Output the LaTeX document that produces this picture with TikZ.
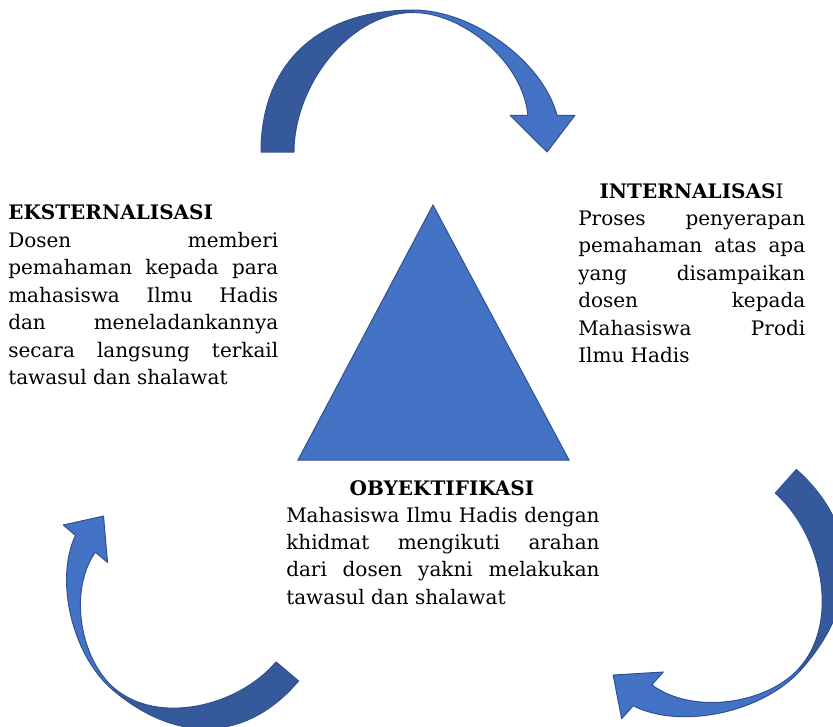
\documentclass[tikz,border=0pt]{standalone}
\usepackage{fontspec}
\setmainfont{DejaVu Serif}
\hyphenpenalty=10000
\exhyphenpenalty=10000
\tolerance=10000
\definecolor{lb}{HTML}{4472C4}
\definecolor{db}{HTML}{35599B}
\definecolor{edge}{HTML}{2F528F}
\tikzset{
  lightpart/.style={fill=lb, draw=edge, line width=0.75pt, line join=round},
  darkpart/.style={fill=db, draw=edge, line width=0.75pt, line join=round},
  tri/.style={fill=lb, draw=edge, line width=0.75pt},
  txt/.style={font=\fontsize{15}{20.6}\selectfont, inner sep=0pt, text=black},
  body/.style={txt, align=justify, anchor=base west},
  ttl/.style={inner sep=0pt, text=black, font=\fontsize{15}{20.6}\selectfont\bfseries, anchor=base},
}
\newcommand\myarrow[4]{%
  \begin{scope}[shift={(#1,#2)}, rotate=#3, scale=#4]
    \path[lightpart] (0,-142) .. controls (60,-142) and (130,-90) .. (144,-36.75)
      -- (162,-36.75) -- (134,0) -- (97,-36.75) -- (114.9,-36.75)
      .. controls (110,-90) and (50,-139.5) .. (0,-139.5) -- cycle;
    \path[darkpart] (-152,0) .. controls (-152,-89) and (-94,-142) .. (0,-142)
      -- (0,-139.5) .. controls (-64,-139.5) and (-119,-66) .. (-119,0) -- cycle;
  \end{scope}}
\begin{document}
\begin{tikzpicture}[x=0.75pt, y=-0.75pt]
\useasboundingbox (0,0) rectangle (833,726);
% triangle
\coordinate (apex) at (433,205);
\coordinate (bl) at (298,460);
\coordinate (br) at (569,460);
\path[tri] (apex) -- (br) -- (bl) -- cycle;
% curved arrows
\myarrow{413}{152}{0}{1}
\myarrow{699}{578.7}{-131.7}{0.963}
\myarrow{194.9}{593.3}{-220.2}{0.893}
% texts
\node[ttl, anchor=base west] (ekst) at (8,219) {EKSTERNALISASI};
\node[body, text width=202.5pt] (ekstb) at (8,247.5) {Dosen memberi\linebreak pemahaman kepada para\linebreak mahasiswa Ilmu Hadis\linebreak dan meneladankannya\linebreak secara langsung terkail\linebreak tawasul dan shalawat};
\node[ttl] (inter) at (691.5,198) {INTERNALISAS\textmd{I}};
\node[body, text width=170.25pt] (interb) at (578,225.5) {Proses penyerapan\linebreak pemahaman atas apa\linebreak yang disampaikan\linebreak dosen kepada\linebreak Mahasiswa Prodi\linebreak Ilmu Hadis};
\node[ttl] (obj) at (442,495) {OBYEKTIFIKASI};
\node[body, text width=235pt] (objb) at (286,522) {Mahasiswa Ilmu Hadis dengan\linebreak khidmat mengikuti arahan\linebreak dari dosen yakni melakukan\linebreak tawasul dan shalawat};
\end{tikzpicture}
\end{document}
